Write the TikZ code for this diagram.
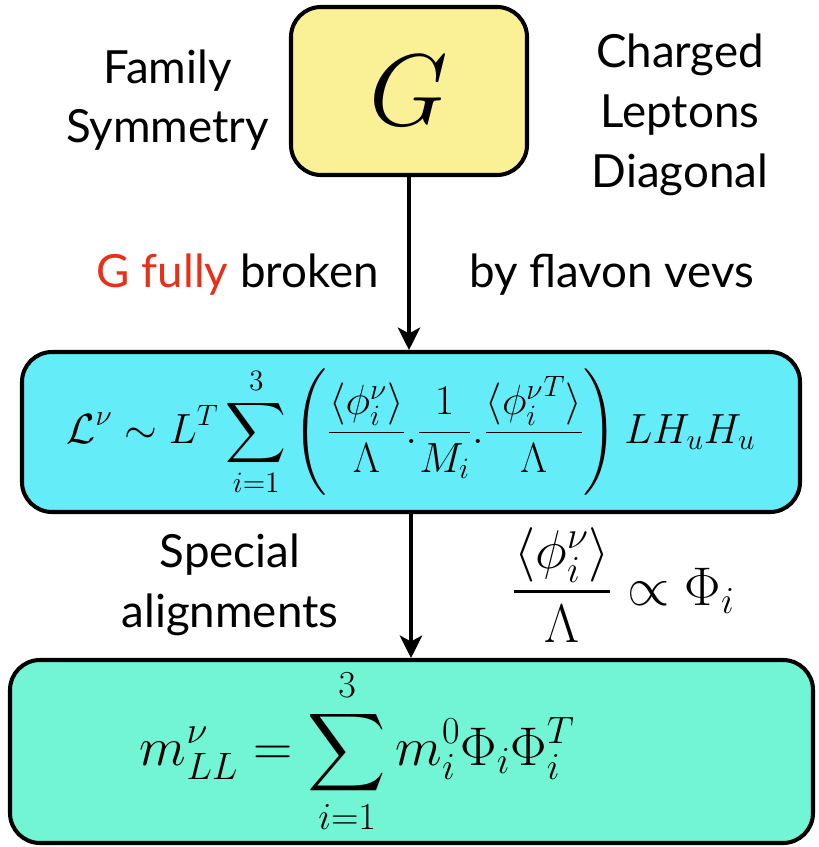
\RequirePackage{fix-cm}
\documentclass[tikz,border=0pt]{standalone}
\usepackage{amsmath, amssymb}
\usepackage{fontspec}
\setmainfont{Lato}
\usepackage{xcolor}
\usepackage{tikz}
\usetikzlibrary{calc, arrows.meta, positioning}

\definecolor{boxyellow}{RGB}{250,240,150}
\definecolor{boxcyan}{RGB}{100,236,248}
\definecolor{boxgreen}{RGB}{114,245,213}
\definecolor{labelred}{RGB}{232,48,24}

\tikzset{
    stagebox/.style={draw=black, line width=2.3pt, rounded corners=0.6cm, inner sep=0pt},
    sidetext/.style={font=\fontsize{26}{34}\selectfont, align=center},
}

\begin{document}
\begin{tikzpicture}[>={Stealth[length=0.45cm, width=0.45cm, inset=0.12cm]}]
                \useasboundingbox (0,0) rectangle (16.38,-16.94);
                % 1. Die drei Kaesten
                \node[stagebox, fill=boxyellow, minimum width=4.72cm, minimum height=3.36cm]
                    (G) at (8.18,-1.82) {\fontsize{58}{60}\selectfont $G$};
                \node[stagebox, fill=boxcyan, minimum width=15.56cm, minimum height=3.2cm]
                    (Lnu) at (8.22,-8.64) {\fontsize{24}{28}\selectfont
                    $\displaystyle \mathcal{L}^{\nu}\sim L^{T}\sum_{i=1}^{3}
                    \left(\frac{\langle\phi_i^{\nu}\rangle}{\Lambda}.\frac{1}{M_i}.
                    \frac{\langle{\phi_i^{\nu}}^{T}\rangle}{\Lambda}\right) LH_uH_u$};
                \node[stagebox, fill=boxgreen, minimum width=16.06cm, minimum height=3.66cm]
                    (mLL) at (8.23,-15.03) {\makebox[16.06cm][l]{\hspace{2.6cm}%
                    \fontsize{31}{35}\selectfont
                    $\displaystyle m^{\nu}_{LL}=\sum_{i=1}^{3} m_i^{0}\Phi_i\Phi_i^{T}$}};

                % 2. Pfeile
                \draw[->, line width=1.8pt] (G.south) -- (G.south |- Lnu.north);
                \draw[->, line width=1.8pt] (Lnu.south) -- (Lnu.south |- mLL.north);

                % 3. Beschriftungen
                \node[sidetext] (famsym) at (3.35,-2.0) {Family\\Symmetry};
                \node[sidetext] (charged) at (13.6,-2.3) {Charged\\Leptons\\Diagonal};
                \node[sidetext, anchor=east] (broken) at (7.7,-5.5)
                    {\textcolor{labelred}{G fully} broken};
                \node[sidetext, anchor=west] (vevs) at (9.26,-5.5) {by flavon vevs};
                \node[sidetext] (special) at (4.6,-11.7) {Special\\alignments};
                \node (align) at (12.47,-11.7) {\fontsize{31}{36}\selectfont
                    $\displaystyle \frac{\langle\phi_i^{\nu}\rangle}{\Lambda}\propto\Phi_i$};
            \end{tikzpicture}
\end{document}
